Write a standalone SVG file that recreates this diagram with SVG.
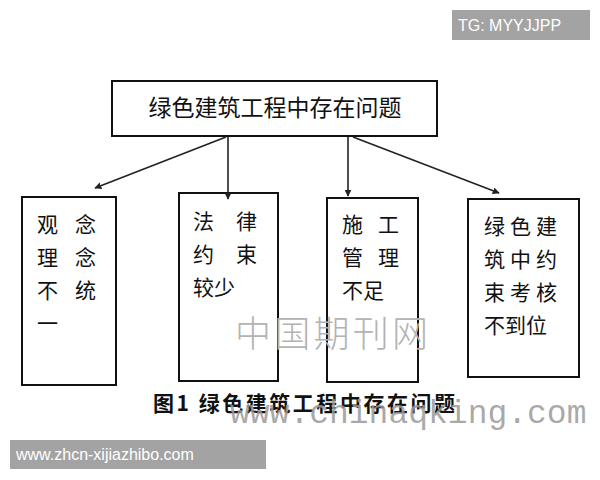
<svg xmlns="http://www.w3.org/2000/svg" width="600" height="480" viewBox="0 0 600 480">
<style>
.box{fill:#fff;stroke:#111;stroke-width:2}
.t{font-family:"Noto Sans CJK SC","Noto Sans",sans-serif;font-size:21px;fill:#111}
.conn{stroke:#222;stroke-width:1.6;fill:none;marker-end:url(#ah)}
.wm{fill:#fff;font-family:"Liberation Sans",Arial,sans-serif;font-size:16px}
</style>
<defs>
<marker id="ah" viewBox="0 0 10 10" refX="9" refY="5" markerWidth="7" markerHeight="7" markerUnits="userSpaceOnUse" orient="auto">
<path d="M0,0 L10,5 L0,10 z" fill="#222"/>
</marker>
</defs>
<rect width="600" height="480" fill="#fff"/>
<g id="tg"><rect x="452" y="10" width="138" height="30" fill="#a3a3a3"/><text class="wm" x="458" y="31">TG: MYYJJPP</text></g>
<g id="top"><rect class="box" x="112" y="81" width="325" height="55"/><text class="t" x="275" y="116" text-anchor="middle" style="font-size:23px">绿色建筑工程中存在问题</text></g>
<g id="n1"><rect class="box" x="22" y="197" width="94" height="188"/>
<text class="t"><tspan x="37" y="232">观</tspan><tspan x="75" y="232">念</tspan><tspan x="37" y="265">理</tspan><tspan x="75" y="265">念</tspan><tspan x="37" y="298">不</tspan><tspan x="75" y="298">统</tspan><tspan x="37" y="331">一</tspan></text></g>
<g id="n2"><rect class="box" x="179" y="193" width="99" height="188"/>
<text class="t"><tspan x="193" y="229">法</tspan><tspan x="236" y="229">律</tspan><tspan x="193" y="262">约</tspan><tspan x="236" y="262">束</tspan><tspan x="193" y="295">较少</tspan></text></g>
<g id="n3"><rect class="box" x="327" y="198" width="91" height="184"/>
<text class="t"><tspan x="342" y="232">施</tspan><tspan x="378" y="232">工</tspan><tspan x="342" y="265">管</tspan><tspan x="378" y="265">理</tspan><tspan x="342" y="298">不足</tspan></text></g>
<g id="n4"><rect class="box" x="468" y="199" width="111" height="178"/>
<text class="t"><tspan x="484 510 536" y="234">绿色建</tspan><tspan x="484 510 536" y="267">筑中约</tspan><tspan x="484 510 536" y="300">束考核</tspan><tspan x="484" y="333">不到位</tspan></text></g>
<g id="connectors">
<line class="conn" x1="226" y1="137" x2="95" y2="188"/>
<line class="conn" x1="228" y1="137" x2="228" y2="199"/>
<line class="conn" x1="348" y1="137" x2="348" y2="196"/>
<line class="conn" x1="353" y1="137" x2="499" y2="193"/>
</g>
<text x="235" y="347" font-family="Noto Sans CJK SC,sans-serif" font-size="36" fill="#b3b3b3" font-weight="300" textLength="193">中国期刊网</text>
<text x="153" y="411" font-family="Noto Sans CJK SC,sans-serif" font-size="21" font-weight="bold" fill="#111" textLength="302">图1 绿色建筑工程中存在问题</text>
<text x="230" y="423" font-family="Liberation Mono,monospace" font-size="33" fill="#9a9a9a" fill-opacity="0.85">www.chinaqking.com</text>
<g id="wm2"><rect x="10" y="440" width="256" height="29" fill="#a3a3a3"/><text class="wm" x="16" y="460">www.zhcn-xijiazhibo.com</text></g>
</svg>
